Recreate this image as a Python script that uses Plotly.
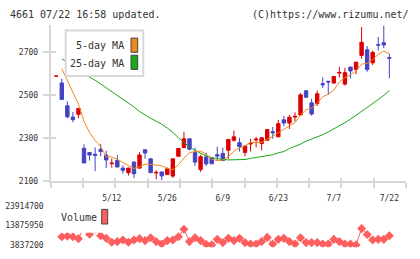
import numpy as np
import plotly.graph_objects as go

W, H = 420, 259

dates = ["4/23","4/24","4/25","4/28","4/30","5/1","5/2","5/7","5/8","5/9",
         "5/12","5/13","5/14","5/15","5/16","5/19","5/20","5/21","5/22","5/23",
         "5/26","5/27","5/28","5/29","5/30","6/2","6/3","6/4","6/5","6/6",
         "6/9","6/10","6/11","6/12","6/13","6/16","6/17","6/18","6/19","6/20",
         "6/23","6/24","6/25","6/26","6/27","6/30","7/1","7/2","7/3","7/4",
         "7/7","7/8","7/9","7/10","7/11","7/14","7/15","7/16","7/17","7/18",
         "7/22"]

opens = [2587,2555,2449,2397,2410,2252,2232,2224,2247,2220,
         2181,2196,2160,2139,2188,2160,2245,2203,2137,2142,
         2130,2123,2215,2255,2296,2232,2153,2212,2207,2222,
         2228,2243,2289,2278,2233,2272,2291,2274,2289,2329,
         2305,2384,2369,2397,2407,2519,2463,2460,2552,2563,
         2555,2601,2550,2629,2618,2683,2709,2649,2733,2742,
         2673]
highs = [2588,2575,2470,2420,2437,2271,2233,2256,2272,2240,
         2205,2220,2172,2162,2190,2233,2246,2205,2150,2143,
         2163,2203,2254,2328,2297,2255,2222,2232,2210,2259,
         2255,2295,2334,2301,2263,2296,2305,2301,2339,2351,
         2384,2402,2407,2419,2508,2521,2482,2520,2581,2565,
         2588,2629,2626,2630,2652,2815,2727,2705,2769,2822,
         2690]
lows = [2586,2478,2392,2373,2392,2184,2195,2146,2215,2160,
        2162,2165,2135,2125,2113,2157,2203,2139,2108,2104,
        2130,2115,2212,2255,2243,2170,2142,2170,2180,2195,
        2195,2203,2283,2237,2215,2237,2256,2243,2289,2296,
        2305,2354,2342,2377,2402,2487,2404,2449,2532,2500,
        2553,2581,2543,2576,2596,2668,2607,2638,2706,2717,
        2578]
closes = [2587,2479,2398,2385,2437,2184,2221,2219,2237,2198,
          2183,2165,2150,2160,2134,2221,2230,2139,2140,2124,
          2157,2203,2251,2296,2248,2188,2213,2180,2180,2216,
          2195,2293,2305,2260,2263,2275,2294,2301,2339,2324,
          2366,2369,2396,2400,2500,2489,2411,2505,2547,2560,
          2585,2604,2603,2611,2652,2744,2618,2697,2731,2732,
          2670]

ma5 = [None,2621,2565,2506,2457,2377,2325,2289,2260,2212,
       2212,2200,2187,2171,2158,2166,2179,2177,2173,2171,
       2158,2153,2175,2206,2231,2237,2239,2225,2202,2195,
       2197,2213,2238,2254,2263,2279,2279,2279,2294,2307,
       2325,2340,2359,2371,2406,2431,2439,2461,2491,2503,
       2522,2560,2580,2593,2611,2643,2646,2664,2688,2704,
       2690]
ma25 = [None,2666,2655,2632,2614,2598,2582,2568,2550,2532,
        2514,2496,2480,2464,2444,2423,2405,2391,2378,2364,
        2346,2326,2301,2278,2258,2242,2228,2217,2209,2203,
        2200,2198,2198,2199,2200,2205,2209,2212,2217,2222,
        2231,2237,2251,2260,2271,2285,2294,2305,2315,2328,
        2342,2354,2371,2387,2405,2421,2441,2460,2478,2498,
        2520]
volume = [None,8050000,8360000,8050000,7050000,13000000,9360000,12000000,8560000,7200000,
          5190000,5540000,6350000,5190000,6350000,7050000,6050000,7550000,5540000,4340000,
          6050000,6350000,8050000,11870000,5540000,7550000,6050000,4190000,3837200,6700000,
          5040000,7200000,6050000,7200000,5040000,4340000,4340000,5540000,7700000,4340000,
          6700000,7200000,5540000,4340000,7550000,5040000,5040000,5040000,4340000,4340000,
          6700000,5540000,4340000,4340000,3837200,12220000,9210000,6350000,6700000,6700000,
          8560000]

price_ticks = [2100, 2300, 2500, 2700]
vol_ticks = [3837200, 13875950, 23914700]
label_dates = ["5/12", "5/26", "6/9", "6/23", "7/7", "7/22"]

RED = "#dc0000"
BLUE = "#4343c3"
ORANGE = "#f08a1c"
GREEN = "#18a818"
VOLC = "#ff5e5e"
AXC = "#d6d6d6"
TXT = "#333333"
MONO = "DejaVu Sans Mono"

x = list(range(len(dates)))

def fx(p):
    return p / W

def fy(p):
    return 1 - p / H

xdom = [fx(50.7), fx(406)]
xr = [-1, 63]
ydom = [fy(184.3), fy(25)]
yr = [2100, 2822.4]
vdom = [fy(252), fy(206)]
vr = [2682600, 25774600]

fig = go.Figure()
fig.add_trace(go.Scatter(x=x, y=ma25, mode="lines", line=dict(color=GREEN, width=1),
                         xaxis="x", yaxis="y", hoverinfo="skip"))
fig.add_trace(go.Scatter(x=x, y=ma5, mode="lines", line=dict(color=ORANGE, width=1),
                         xaxis="x", yaxis="y", hoverinfo="skip"))
fig.add_trace(go.Candlestick(
    x=x, open=opens, high=highs, low=lows, close=closes,
    increasing=dict(line=dict(color=RED, width=1), fillcolor=RED),
    decreasing=dict(line=dict(color=BLUE, width=1), fillcolor=BLUE),
    whiskerwidth=0, xaxis="x", yaxis="y"))
# invisible carriers so the overlay axes (tick marks / date labels) get drawn
fig.add_trace(go.Scatter(x=[x[0]], y=[closes[0]], mode="markers", marker=dict(opacity=0),
                         xaxis="x3", yaxis="y3", hoverinfo="skip"))
fig.add_trace(go.Scatter(x=[x[0]], y=[closes[0]], mode="markers", marker=dict(opacity=0),
                         xaxis="x4", yaxis="y", hoverinfo="skip"))
fig.add_trace(go.Scatter(x=x, y=volume, mode="lines+markers",
                         line=dict(color=VOLC, width=1),
                         marker=dict(symbol="diamond", size=7, color=VOLC),
                         xaxis="x2", yaxis="y2", connectgaps=False))

tick_marks = list(np.linspace(xr[0], xr[1], 12))
label_vals = [dates.index(d) for d in label_dates]
tickfont = dict(family=MONO, size=8, color=TXT)

fig.update_layout(
    width=W, height=H, margin=dict(l=0, r=0, t=0, b=0),
    paper_bgcolor="white", plot_bgcolor="white", showlegend=False,
    boxgap=0.12,
    xaxis=dict(domain=xdom, range=xr, anchor="y", showgrid=False, zeroline=False,
               showline=True, linecolor=AXC, linewidth=2,
               tickmode="array", tickvals=tick_marks, showticklabels=False,
               ticks="outside", ticklen=5, tickwidth=2, tickcolor=AXC,
               rangeslider=dict(visible=False)),
    xaxis3=dict(domain=xdom, range=xr, anchor="y3", overlaying="x", showgrid=False,
                zeroline=False, showline=False, tickmode="array", tickvals=tick_marks,
                showticklabels=False, ticks="inside", ticklen=3, tickwidth=2, tickcolor=AXC),
    xaxis4=dict(domain=xdom, range=xr, anchor="y", overlaying="x", showgrid=False,
                zeroline=False, showline=False, tickmode="array", tickvals=label_vals,
                ticktext=label_dates, ticks="", tickfont=tickfont, ticklabelstandoff=11),
    yaxis=dict(domain=ydom, range=yr, anchor="x", showgrid=False, zeroline=False,
               showline=True, linecolor=AXC, linewidth=2,
               tickmode="array", tickvals=price_ticks, ticks="outside", ticklen=6,
               tickwidth=2, tickcolor=AXC, tickfont=tickfont, ticklabelstandoff=3),
    yaxis3=dict(domain=ydom, range=yr, anchor="x3", overlaying="y", showgrid=False,
                zeroline=False, showline=False, tickmode="array", tickvals=price_ticks,
                ticks="inside", ticklen=5, tickwidth=2, tickcolor=AXC, showticklabels=False),
    xaxis2=dict(domain=xdom, range=xr, anchor="y2", showgrid=False, zeroline=False,
                showline=False, showticklabels=False, ticks=""),
    yaxis2=dict(domain=vdom, range=vr, anchor="x2", showgrid=False, zeroline=False,
                showline=False, tickmode="array", tickvals=vol_ticks,
                ticktext=[str(v) for v in vol_ticks], ticks="",
                tickfont=tickfont, ticklabelstandoff=6),
)

shapes = [
    dict(type="rect", xref="paper", yref="paper", x0=fx(65.7), x1=fx(143.3),
         y0=fy(76.7), y1=fy(30.3), fillcolor="white", line=dict(color="#d8d8d8", width=2),
         layer="above"),
    dict(type="rect", xref="paper", yref="paper", x0=fx(131), x1=fx(137.7),
         y0=fy(52.5), y1=fy(38), fillcolor=ORANGE, line=dict(color="#444444", width=1),
         layer="above"),
    dict(type="rect", xref="paper", yref="paper", x0=fx(131), x1=fx(137.7),
         y0=fy(70), y1=fy(55.5), fillcolor=GREEN, line=dict(color="#444444", width=1),
         layer="above"),
    dict(type="rect", xref="paper", yref="paper", x0=fx(53), x1=fx(113),
         y0=fy(237.3), y1=fy(206), fillcolor="white", line=dict(width=0),
         layer="above"),
    dict(type="rect", xref="paper", yref="paper", x0=fx(101.7), x1=fx(107.7),
         y0=fy(228.3), y1=fy(213.3), fillcolor=VOLC, line=dict(color="#444444", width=1),
         layer="above"),
]
fig.update_layout(shapes=shapes)

hf = dict(family=MONO, size=10, color=TXT)
ann = [
    dict(text="4661 07/22 16:58 updated.", x=fx(8), y=fy(13.8), xanchor="left"),
    dict(text="(C)https://www.rizumu.net/", x=fx(411), y=fy(13.8), xanchor="right"),
    dict(text="5-day MA", x=fx(125.5), y=fy(46), xanchor="right"),
    dict(text="25-day MA", x=fx(125.5), y=fy(63.5), xanchor="right"),
    dict(text="Volume", x=fx(59), y=fy(221.7), xanchor="left"),
]
fig.update_layout(annotations=[dict(a, xref="paper", yref="paper", yanchor="middle",
                                    showarrow=False, font=hf) for a in ann])

fig.write_html("out.html")
